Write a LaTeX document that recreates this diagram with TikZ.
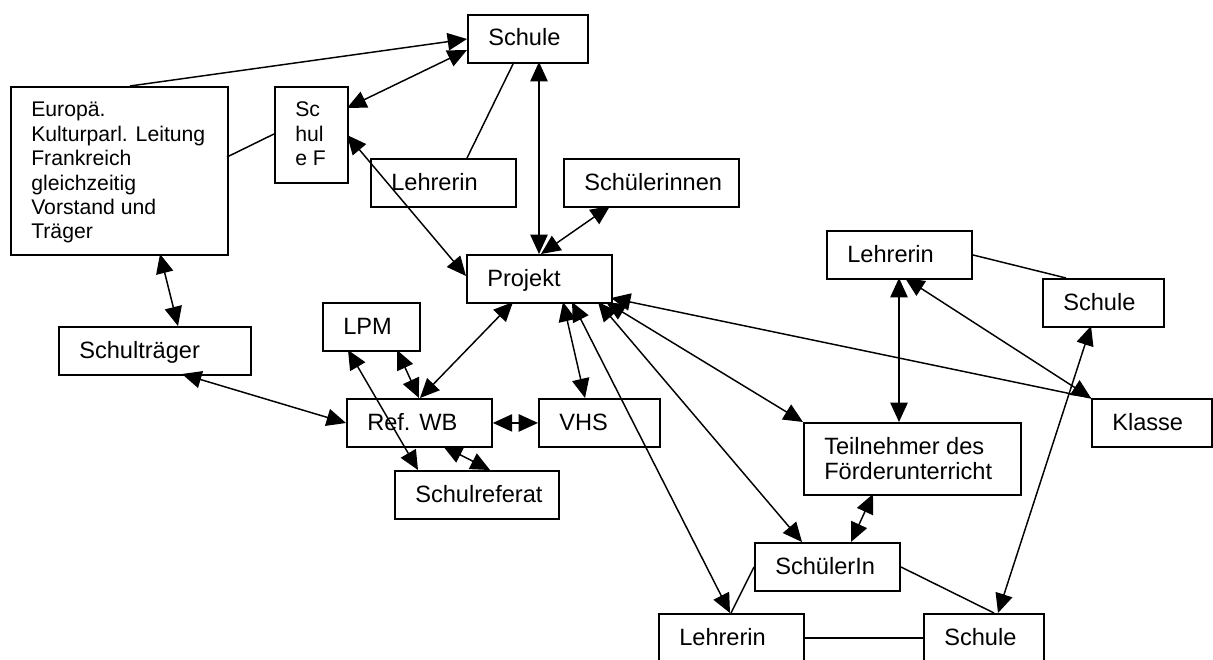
\documentclass[tikz,border=0pt]{standalone}
\usepackage{fontspec}
\setmainfont{Liberation Sans}
\usetikzlibrary{arrows.meta}
\newcommand\bx[7][]{%
  \node[box,minimum width=#5*0.75pt,minimum height=#6*0.75pt] (#2) at (#3,#4) {};
  \node[lbl,#1] (#2t) at ([shift={(21,32)}]#2.north west) {\begin{tabular}[t]{@{}l@{}}#7\end{tabular}};}
\begin{document}
\begin{tikzpicture}[x=0.75pt,y=-0.75pt,
  box/.style={draw,line width=1.4pt,rectangle,inner sep=0pt,anchor=north west},
  lbl/.style={anchor=base west,inner sep=0pt,font=\fontsize{17.7pt}{19.2pt}\selectfont},
  sml/.style={font=\fontsize{15.9pt}{18.3pt}\selectfont,yshift=0.75pt},
  con/.style={line width=1.1pt},
  ar/.style={con,-{Triangle[length=14.5pt,width=13pt]}},
  dar/.style={con,{Triangle[length=14.5pt,width=13pt]}-{Triangle[length=14.5pt,width=13pt]}}]
\useasboundingbox (0,0) rectangle (1213,660);
\fill[white] (0,0) rectangle (1213,660);
\clip (0,0) rectangle (1213,660);
% boxes
\bx{schuleA}{467}{14}{120}{48}{Schule}
\bx[sml]{euro}{10}{86}{217}{168}{Europä.\\Kulturparl. Leitung\\Frankreich\\gleichzeitig\\Vorstand und\\Träger}
\bx[sml]{schuleF}{274}{86}{73}{96}{Sc\\hul\\e F}
\bx{lehrA}{370}{158}{145}{48}{Lehrerin}
\bx{schuelerinnen}{563}{158}{175}{48}{Schülerinnen}
\bx{projekt}{466}{254}{145}{48}{Projekt}
\bx{lpm}{322}{302}{97}{48}{LPM}
\bx{schultraeger}{58}{326}{192}{48}{Schulträger}
\bx{refwb}{346}{398}{145}{48}{Ref. WB}
\bx{vhs}{538}{398}{121}{48}{VHS}
\bx{schulref}{394}{470}{164}{48}{Schulreferat}
\bx{lehrB}{826}{230}{145}{48}{Lehrerin}
\bx{schuleB}{1042}{278}{121}{48}{Schule}
\bx{klasse}{1091}{398}{120}{48}{Klasse}
\bx{teiln}{803}{422}{217}{72}{Teilnehmer des\\Förderunterricht}
\bx{schuelerIn}{754}{542}{145}{48}{SchülerIn}
\bx{lehrC}{658}{613}{145}{48}{Lehrerin}
\bx{schuleC}{923}{613}{120}{48}{Schule}
% connectors
\draw[ar] ([shift={(120,0)}]euro.north west) -- ([shift={(0,25)}]schuleA.north west);
\draw[dar] ([shift={(0,36)}]schuleA.north west) -- ([shift={(73,22)}]schuleF.north west);
\draw[con] ([shift={(217,71)}]euro.north west) -- ([shift={(0,48)}]schuleF.north west);
\draw[dar] ([shift={(73,49)}]schuleF.north west) -- ([shift={(0,22)}]projekt.north west);
\draw[con] ([shift={(47,48)}]schuleA.north west) -- ([shift={(97,0)}]lehrA.north west);
\draw[dar] ([shift={(72,48)}]schuleA.north west) -- ([shift={(73,0)}]projekt.north west);
\draw[dar] ([shift={(47,48)}]schuelerinnen.north west) -- ([shift={(75,0)}]projekt.north west);
\draw[dar] ([shift={(150,168)}]euro.north west) -- ([shift={(120,0)}]schultraeger.north west);
\draw[dar] ([shift={(124,48)}]schultraeger.north west) -- ([shift={(0,25)}]refwb.north west);
\draw[dar] ([shift={(75,48)}]lpm.north west) -- ([shift={(73,0)}]refwb.north west);
\draw[dar] ([shift={(47,48)}]projekt.north west) -- ([shift={(74,0)}]refwb.north west);
\draw[dar] ([shift={(26,48)}]lpm.north west) -- ([shift={(24,0)}]schulref.north west);
\draw[dar] ([shift={(97,48)}]refwb.north west) -- ([shift={(96,0)}]schulref.north west);
\draw[dar] (refwb.east) -- (vhs.west);
\draw[dar] ([shift={(97,48)}]projekt.north west) -- ([shift={(47,0)}]vhs.north west);
\draw[dar] ([shift={(106,48)}]projekt.north west) -- ([shift={(72,0)}]lehrC.north west);
\draw[dar] ([shift={(132,48)}]projekt.north west) -- ([shift={(48,0)}]schuelerIn.north west);
\draw[dar] ([shift={(140,48)}]projekt.north west) -- (teiln.north west);
\draw[ar] (klasse.north west) -- ([shift={(145,44)}]projekt.north west);
\draw[dar] ([shift={(79,48)}]lehrB.north west) -- (klasse.north west);
\draw[dar] ([shift={(73,48)}]lehrB.north west) -- ([shift={(96,0)}]teiln.north west);
\draw[con] (lehrB.east) -- ([shift={(24,0)}]schuleB.north west);
\draw[dar] ([shift={(49,48)}]schuleB.north west) -- ([shift={(75,0)}]schuleC.north west);
\draw[dar] ([shift={(70,72)}]teiln.north west) -- ([shift={(97,0)}]schuelerIn.north west);
\draw[con] (schuelerIn.west) -- ([shift={(73,0)}]lehrC.north west);
\draw[con] (schuelerIn.east) -- ([shift={(71,0)}]schuleC.north west);
\draw[con] (lehrC.east) -- (schuleC.west);
\end{tikzpicture}
\end{document}
